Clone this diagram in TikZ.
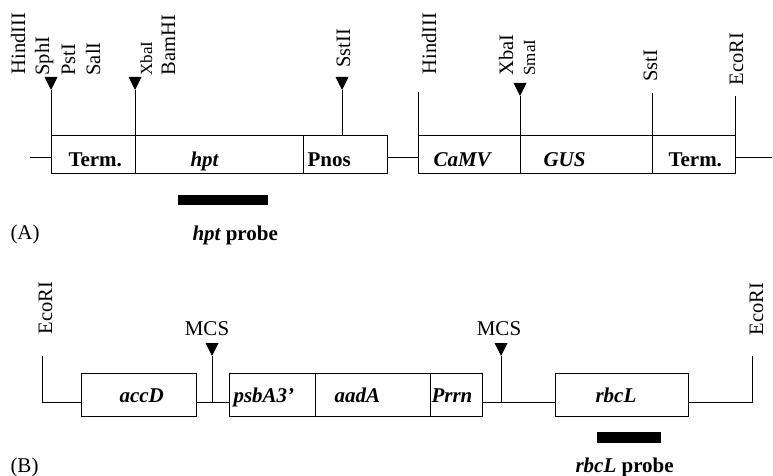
\documentclass[tikz,border=0pt]{standalone}
\usepackage{fontspec}
\setmainfont{Liberation Serif}
\newcommand\sitetri[1]{\fill (#1) -- ++(-6.5,-13) -- ++(13,0) -- cycle;}
\begin{document}
\begin{tikzpicture}[x=1pt,y=-1pt, line width=1pt,
  gene/.style={draw, rectangle, inner sep=0pt, outer sep=0pt, anchor=north west},
  probebar/.style={fill=black, draw=none, rectangle, inner sep=0pt, outer sep=0pt, anchor=north west},
  sitelbl/.style={rotate=90, anchor=base west, inner sep=0pt, font=\fontsize{20.5}{24}\selectfont},
  smalllbl/.style={rotate=90, anchor=base west, inner sep=0pt, font=\fontsize{17}{20}\selectfont},
  genetxt/.style={anchor=base west, inner sep=0pt, font=\fontsize{21}{25}\selectfont\bfseries\itshape},
  genetxtup/.style={anchor=base west, inner sep=0pt, font=\fontsize{21}{25}\selectfont\bfseries},
  plain/.style={anchor=base west, inner sep=0pt, font=\fontsize{21}{25}\selectfont},
  ]
\useasboundingbox (0,0) rectangle (773,476);

% ---------- Part A ----------
\node[gene, minimum width=84pt, minimum height=38pt] (a1) at (51,135) {};
\node[gene, minimum width=168pt, minimum height=38pt] (a2) at (135,135) {};
\node[gene, minimum width=84pt, minimum height=38pt] (a3) at (303,135) {};
\node[gene, minimum width=102pt, minimum height=38pt] (a4) at (418,135) {};
\node[gene, minimum width=132pt, minimum height=38pt] (a5) at (520,135) {};
\node[gene, minimum width=83pt, minimum height=38pt] (a6) at (652,135) {};

\coordinate (yA) at (0,157);
\coordinate (aL) at (30,157);
\coordinate (aR) at (772,157);
\draw (aL) -- (a1.west |- yA);
\draw (a3.east |- yA) -- (a4.west |- yA);
\draw (a6.east |- yA) -- (aR);

% sites A
\coordinate (tSph) at (51,90);
\draw (a1.north west) -- (tSph); \sitetri{tSph}
\coordinate (tXbaA) at (135,90);
\draw (a2.north west) -- (tXbaA); \sitetri{tXbaA}
\coordinate (tSst) at (342,90);
\draw (tSst |- a3.north) -- (tSst); \sitetri{tSst}
\coordinate (hR) at (418,92);
\draw (a4.north west) -- (hR);
\coordinate (tXS) at (520,96);
\draw (a5.north west) -- (tXS); \sitetri{tXS}
\coordinate (sI) at (652,93);
\draw (a6.north west) -- (sI);
\coordinate (eA) at (735,96);
\draw (a6.north east) -- (eA);

% site labels A
\node[sitelbl] (lHind1) at (25,75) {HindIII};
\node[sitelbl] (lSph) at (49,76) {SphI};
\node[sitelbl] (lPst) at (75,76) {PstI};
\node[sitelbl] (lSal) at (100,76) {SalI};
\node[smalllbl] (lXba1) at (152,76) {XbaI};
\node[sitelbl] (lBam) at (175,76) {BamHI};
\node[sitelbl] (lSstII) at (350,68) {SstII};
\node[sitelbl] (lHind2) at (436,75) {HindIII};
\node[sitelbl] (lXba2) at (513,76) {XbaI};
\node[smalllbl] (lSma) at (535,76) {SmaI};
\node[sitelbl] (lSstI) at (657,82) {SstI};
\node[sitelbl] (lEcoA) at (743,86) {EcoRI};

% gene texts A
\node[genetxtup] (tTerm1) at (68,166) {Term.};
\node[genetxt] (thpt) at (190,166) {hpt};
\node[genetxtup] (tPnos) at (307,166) {Pnos};
\node[genetxt] (tCaMV) at (433,166) {CaMV};
\node[genetxt] (tGUS) at (543,166) {GUS};
\node[genetxtup] (tTerm2) at (668,166) {Term.};

% probe A
\node[probebar, minimum width=90pt, minimum height=10pt] (pA) at (178,195) {};
\node[genetxtup] (pAlbl) at (192,240) {\itshape hpt\upshape{} probe};
\node[plain] (labA) at (10,239) {(A)};

% ---------- Part B ----------
\node[gene, minimum width=115pt, minimum height=43pt] (b1) at (81,373) {};
\node[gene, minimum width=86pt, minimum height=43pt] (b2) at (229,373) {};
\node[gene, minimum width=115pt, minimum height=43pt] (b3) at (315,373) {};
\node[gene, minimum width=52pt, minimum height=43pt] (b4) at (430,373) {};
\node[gene, minimum width=133pt, minimum height=43pt] (b5) at (555,373) {};

\coordinate (yB) at (0,402);
\coordinate (eBL) at (42,356);
\coordinate (eBR) at (752,356);
\draw (eBL) |- (b1.west |- yB);
\draw (b1.east |- yB) -- (b2.west |- yB);
\draw (b4.east |- yB) -- (b5.west |- yB);
\draw (b5.east |- yB) -| (eBR);

\coordinate (m1) at (212,356);
\draw (m1 |- yB) -- (m1); \sitetri{m1}
\coordinate (m2) at (501,356);
\draw (m2 |- yB) -- (m2); \sitetri{m2}

\node[plain, anchor=base] (lMCS1) at (207,335) {MCS};
\node[plain, anchor=base] (lMCS2) at (499,335) {MCS};
\node[sitelbl] (lEcoBL) at (52,335) {EcoRI};
\node[sitelbl] (lEcoBR) at (763,336) {EcoRI};

\node[genetxt] (taccD) at (119,402) {accD};
\node[genetxt] (tpsbA) at (233,402) {psbA3’};
\node[genetxt] (taadA) at (334,402) {aadA};
\node[genetxt] (tPrrn) at (431,402) {Prrn};
\node[genetxt] (trbcL) at (595,402) {rbcL};

\node[probebar, minimum width=64pt, minimum height=11pt] (pB) at (597,432) {};
\node[genetxtup] (pBlbl) at (575,472) {\itshape rbcL\upshape{} probe};
\node[plain] (labB) at (10,472) {(B)};
\end{tikzpicture}
\end{document}
